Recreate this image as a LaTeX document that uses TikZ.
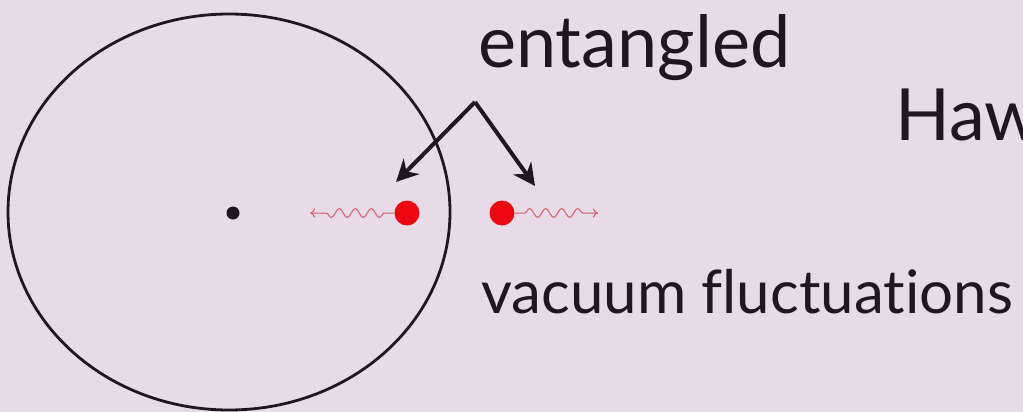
\documentclass[tikz,border=0pt]{standalone}
\usepackage{fontspec}
\setmainfont[Ligatures={NoCommon,NoDiscretionary,NoRare}]{Lato}
\usetikzlibrary{decorations.pathmorphing,arrows.meta}
\definecolor{bg}{RGB}{232,218,232}
\definecolor{dotred}{RGB}{236,8,16}
\definecolor{wavered}{RGB}{214,92,104}
\definecolor{ink}{RGB}{34,20,34}
\tikzset{
  dotstyle/.style={circle, inner sep=0pt, fill=#1},
  bigarrow/.style={line width=4pt, ink, -{Stealth[length=22pt,width=22pt]}},
  wave/.style={wavered, line width=1pt, -{To[length=5pt,width=9pt]}, decorate,
    decoration={snake, amplitude=4.5pt, segment length=16pt, pre length=10pt, post length=12pt}},
  label/.style={inner sep=0pt, text=ink, anchor=base west}
}
\begin{document}
\begin{tikzpicture}[x=1pt,y=-1pt]
\fill[bg] (0,0) rectangle (1023,412);
\useasboundingbox (0,0) rectangle (1023,412);
\draw[ink, line width=2.8pt] (229,212) ellipse [x radius=221, y radius=198];
\node[dotstyle=ink, minimum size=13pt] (sing) at (233,213) {};
\node[dotstyle=dotred, minimum size=25pt] (ldot) at (407,213) {};
\node[dotstyle=dotred, minimum size=25pt] (rdot) at (502,213) {};
\coordinate (ltip) at (310,213);
\coordinate (rtip) at (598,213);
\draw[wave] (ldot.west) -- (ltip);
\draw[wave] (rdot.east) -- (rtip);
\node[label, font=\fontsize{72}{76}\selectfont] (ent) at (478,67) {entangled};
\node[label, font=\fontsize{72}{76}\selectfont] (haw) at (895,140) {Haw};
\node[label, font=\fontsize{60}{64}\selectfont] (vac) at (481,313) {vacuum fluctuations};
\coordinate (apex) at (475,102);
\coordinate (la) at (396,182);
\coordinate (ra) at (535,186);
\draw[bigarrow] (apex) -- (la);
\draw[bigarrow] (apex) -- (ra);
\end{tikzpicture}
\end{document}
